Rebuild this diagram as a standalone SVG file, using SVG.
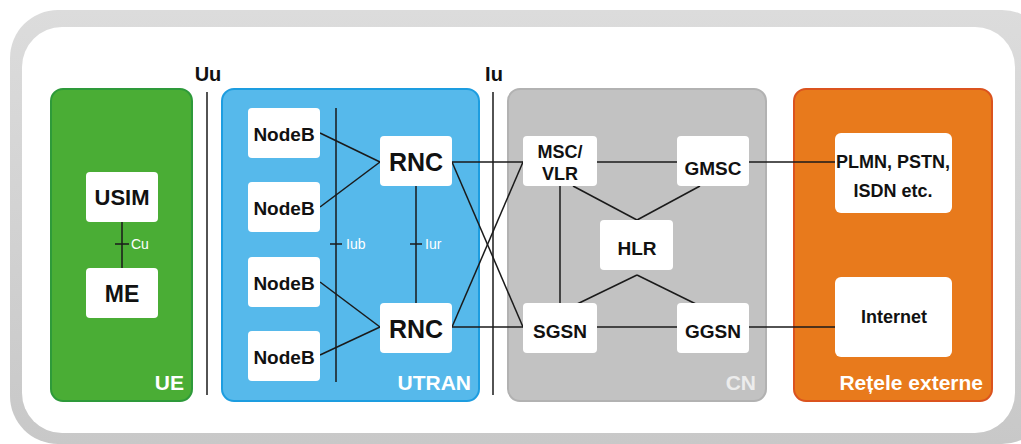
<svg xmlns="http://www.w3.org/2000/svg" width="1021" height="444" viewBox="0 0 1021 444">
<defs>
<linearGradient id="frameG" x1="0" y1="0" x2="0" y2="1">
<stop offset="0" stop-color="#dcdcdc"/>
<stop offset="1" stop-color="#c8c8c8"/>
</linearGradient>
</defs>
<style>
text{font-family:"Liberation Sans",Arial,sans-serif;font-weight:bold}
.node{fill:#fff}
.lbl{fill:#111;text-anchor:middle}
.ln{stroke:#1a1a1a;stroke-width:1.5;fill:none}
.wl{fill:#fff;font-size:14px;font-weight:normal}
.grp{font-size:21px;text-anchor:end}
</style>
<rect x="10" y="10" width="1040" height="434" rx="48" fill="url(#frameG)"/>
<rect x="22" y="27" width="993" height="406" rx="40" fill="#fff"/>

<g id="interfaces">
<line class="ln" x1="207" y1="92" x2="207" y2="395"/>
<line class="ln" x1="493" y1="92" x2="493" y2="395"/>
<text x="208" y="81" font-size="20" fill="#111" text-anchor="middle">Uu</text>
<text x="494" y="81" font-size="20" fill="#111" text-anchor="middle">Iu</text>
</g>

<g id="UE">
<rect x="51" y="89" width="141" height="312" rx="12" fill="#4aad35" stroke="#2e9a3a" stroke-width="2"/>
<text class="grp" x="184" y="390" fill="#fff">UE</text>
</g>
<g id="UTRAN">
<rect x="222" y="89" width="257" height="312" rx="12" fill="#56b9eb" stroke="#1d9de0" stroke-width="2"/>
<text class="grp" x="471" y="390" fill="#fff">UTRAN</text>
</g>
<g id="CN">
<rect x="508" y="89" width="258" height="312" rx="12" fill="#c2c2c2" stroke="#b2b2b2" stroke-width="2"/>
<text class="grp" x="756" y="390" fill="#ececec">CN</text>
</g>
<g id="ext">
<rect x="794" y="89" width="198" height="312" rx="12" fill="#e87a1c" stroke="#db531e" stroke-width="2"/>
<text class="grp" x="983" y="390" fill="#fff" font-size="22">Rețele externe</text>
</g>

<g id="connectors">
<line class="ln" x1="122" y1="222" x2="122" y2="268"/>
<line class="ln" x1="115" y1="244" x2="129" y2="244"/>
<line class="ln" x1="336" y1="108" x2="336" y2="382"/>
<line class="ln" x1="330" y1="244" x2="342" y2="244"/>
<line class="ln" x1="416" y1="186" x2="416" y2="303"/>
<line class="ln" x1="410" y1="244" x2="422" y2="244"/>
<line class="ln" x1="320" y1="133" x2="380" y2="162"/>
<line class="ln" x1="320" y1="207" x2="380" y2="162"/>
<line class="ln" x1="320" y1="282" x2="380" y2="327"/>
<line class="ln" x1="320" y1="355" x2="380" y2="327"/>
<line class="ln" x1="452" y1="162" x2="523" y2="162"/>
<line class="ln" x1="452" y1="162" x2="523" y2="327"/>
<line class="ln" x1="452" y1="327" x2="523" y2="162"/>
<line class="ln" x1="452" y1="327" x2="523" y2="327"/>
<line class="ln" x1="597" y1="162" x2="677" y2="162"/>
<line class="ln" x1="560" y1="186" x2="560" y2="303"/>
<line class="ln" x1="573" y1="186" x2="637" y2="220"/>
<line class="ln" x1="700" y1="186" x2="637" y2="220"/>
<line class="ln" x1="637" y1="275" x2="573" y2="306"/>
<line class="ln" x1="637" y1="275" x2="700" y2="306"/>
<line class="ln" x1="597" y1="327" x2="677" y2="327"/>
<line class="ln" x1="749" y1="162" x2="835" y2="162"/>
<line class="ln" x1="749" y1="327" x2="835" y2="327"/>
<text class="wl" x="131" y="249">Cu</text>
<text class="wl" x="346" y="249">Iub</text>
<text class="wl" x="425" y="249">Iur</text>
</g>

<g id="USIM"><rect class="node" x="86" y="172" width="72" height="50" rx="4"/><text class="lbl" x="122" y="205" font-size="22">USIM</text></g>
<g id="ME"><rect class="node" x="86" y="268" width="72" height="50" rx="4"/><text class="lbl" x="122" y="302" font-size="23">ME</text></g>

<g id="NodeB1"><rect class="node" x="248" y="108" width="72" height="50" rx="4"/><text class="lbl" x="284" y="141" font-size="19">NodeB</text></g>
<g id="NodeB2"><rect class="node" x="248" y="182" width="72" height="50" rx="4"/><text class="lbl" x="284" y="215" font-size="19">NodeB</text></g>
<g id="NodeB3"><rect class="node" x="248" y="257" width="72" height="50" rx="4"/><text class="lbl" x="284" y="290" font-size="19">NodeB</text></g>
<g id="NodeB4"><rect class="node" x="248" y="331" width="72" height="50" rx="4"/><text class="lbl" x="284" y="364" font-size="19">NodeB</text></g>

<g id="RNC1"><rect class="node" x="380" y="136" width="72" height="50" rx="4"/><text class="lbl" x="416" y="171" font-size="25">RNC</text></g>
<g id="RNC2"><rect class="node" x="380" y="303" width="72" height="50" rx="4"/><text class="lbl" x="416" y="338" font-size="25">RNC</text></g>

<g id="MSCVLR"><rect class="node" x="523" y="136" width="74" height="50" rx="4"/><text class="lbl" x="560" y="158" font-size="18">MSC/</text><text class="lbl" x="560" y="180" font-size="18">VLR</text></g>
<g id="GMSC"><rect class="node" x="677" y="136" width="72" height="50" rx="4"/><text class="lbl" x="713" y="175" font-size="19">GMSC</text></g>
<g id="HLR"><rect class="node" x="600" y="220" width="73" height="50" rx="4"/><text class="lbl" x="637" y="255" font-size="19">HLR</text></g>
<g id="SGSN"><rect class="node" x="523" y="303" width="74" height="50" rx="4"/><text class="lbl" x="560" y="338" font-size="19">SGSN</text></g>
<g id="GGSN"><rect class="node" x="677" y="303" width="72" height="50" rx="4"/><text class="lbl" x="713" y="338" font-size="19">GGSN</text></g>

<g id="PLMN"><rect class="node" x="835" y="133" width="117" height="80" rx="6"/><text class="lbl" x="893" y="168" font-size="18">PLMN, PSTN,</text><text class="lbl" x="893" y="197" font-size="18">ISDN etc.</text></g>
<g id="Internet"><rect class="node" x="835" y="277" width="117" height="80" rx="6"/><text class="lbl" x="894" y="323" font-size="18">Internet</text></g>
</svg>
